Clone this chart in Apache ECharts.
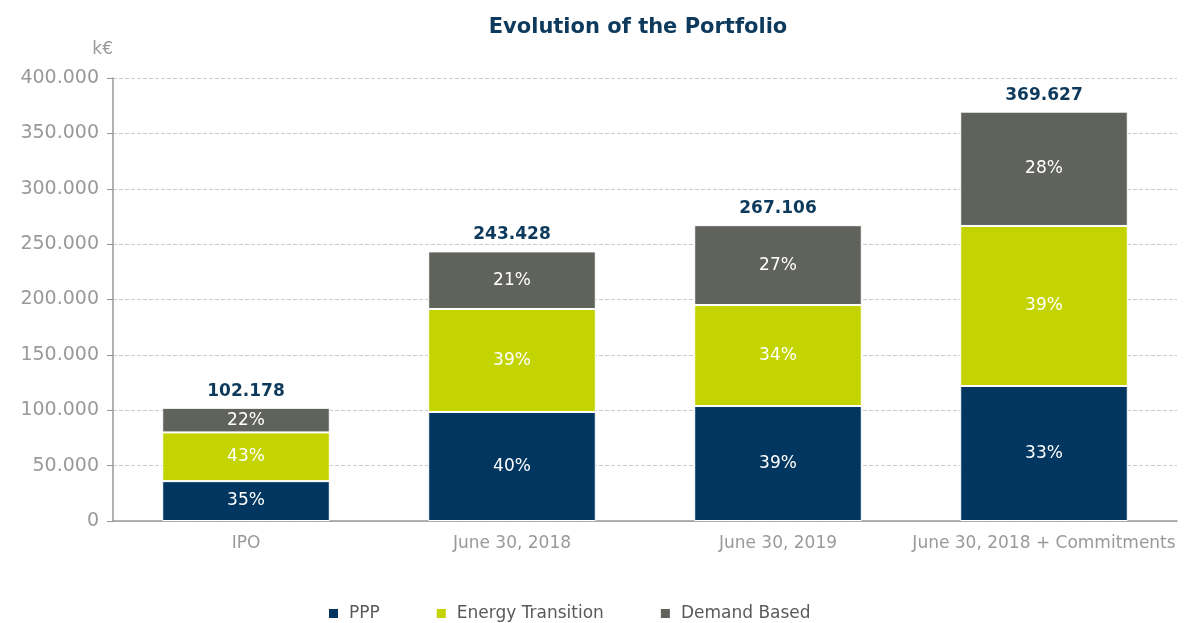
<!DOCTYPE html>
<html>
<head>
<meta charset="utf-8">
<script src="https://cdn.jsdelivr.net/npm/echarts@6/dist/echarts.min.js"></script>
<style>
  html, body { margin: 0; padding: 0; background: #fff; }
  #chart { width: 1189px; height: 623px; }
</style>
</head>
<body>
<div id="chart"></div>
<script>
// données (k€)
var categories = ['IPO', 'June 30, 2018', 'June 30, 2019', 'June 30, 2018 + Commitments'];
var ppp = [36000, 98400, 103800, 121900];
var energy = [44000, 93000, 91200, 144500];
var demand = [22178, 52028, 72106, 103227];
var totals = ['102.178', '243.428', '267.106', '369.627'];
var pppPct = ['35%', '40%', '39%', '33%'];
var energyPct = ['43%', '39%', '34%', '39%'];
var demandPct = ['22%', '21%', '27%', '28%'];
var yTicks = [0, 50000, 100000, 150000, 200000, 250000, 300000, 350000, 400000];

var font = 'DejaVu Sans';
var chart = echarts.init(document.getElementById('chart'));

function fmt(v) {
    if (v === 0) return '0';
    return String(v).replace(/\B(?=(\d{3})+(?!\d))/g, '.');
}

function pctLabel(arr) {
    return {
        show: true,
        position: 'inside',
        color: '#fff',
        fontSize: 17,
        fontFamily: font,
        formatter: function (p) { return arr[p.dataIndex]; }
    };
}

var option = {
    animation: false,
    title: {
        text: 'Evolution of the Portfolio',
        left: 633,
        textAlign: 'center',
        top: 12,
        textStyle: { color: '#0d3a5c', fontSize: 21, fontWeight: 'bold', fontFamily: font }
    },
    legend: {
        data: ['PPP', 'Energy Transition', 'Demand Based'],
        top: 600,
        left: 322,
        itemWidth: 11,
        itemHeight: 11,
        itemGap: 55,
        icon: 'rect',
        textStyle: { color: '#5a5a5a', fontSize: 17, fontFamily: font, padding: [0, 0, 0, 5] }
    },
    grid: { left: 113, right: 12, top: 78, bottom: 102 },
    xAxis: {
        type: 'category',
        data: categories,
        axisLine: { lineStyle: { color: '#999', width: 1.5 } },
        axisTick: { show: false },
        axisLabel: { color: '#999', fontSize: 17, fontFamily: font, margin: 14, interval: 0 }
    },
    yAxis: {
        type: 'value',
        name: 'k€',
        nameLocation: 'end',
        nameGap: 20,
        nameTextStyle: { color: '#999', fontSize: 17, fontFamily: font, align: 'right' },
        min: yTicks[0],
        max: yTicks[yTicks.length - 1],
        interval: 50000,
        axisLine: { show: true, lineStyle: { color: '#999', width: 1.5 } },
        axisTick: { show: true, length: 6, lineStyle: { color: '#999' } },
        axisLabel: { color: '#999', fontSize: 19, fontFamily: font, margin: 14, formatter: fmt },
        splitLine: { lineStyle: { color: '#ccc', type: 'dashed' } }
    },
    series: [
        {
            name: 'PPP', type: 'bar', stack: 'total', barWidth: '63%',
            data: ppp,
            itemStyle: { color: '#003660', borderColor: '#fff', borderWidth: 1 },
            label: pctLabel(pppPct)
        },
        {
            name: 'Energy Transition', type: 'bar', stack: 'total',
            data: energy,
            itemStyle: { color: '#c3d400', borderColor: '#fff', borderWidth: 1 },
            label: pctLabel(energyPct)
        },
        {
            name: 'Demand Based', type: 'bar', stack: 'total',
            data: demand,
            itemStyle: { color: '#60625c', borderColor: '#fff', borderWidth: 1 },
            label: pctLabel(demandPct)
        },
        {
            name: 'Total', type: 'bar', stack: 'total',
            data: [0, 0, 0, 0],
            itemStyle: { color: 'transparent' },
            label: {
                show: true,
                position: 'top',
                distance: 8,
                color: '#0d3a5c',
                fontSize: 17,
                fontWeight: 'bold',
                fontFamily: font,
                formatter: function (p) { return totals[p.dataIndex]; }
            }
        }
    ]
};

chart.setOption(option);
</script>
</body>
</html>
